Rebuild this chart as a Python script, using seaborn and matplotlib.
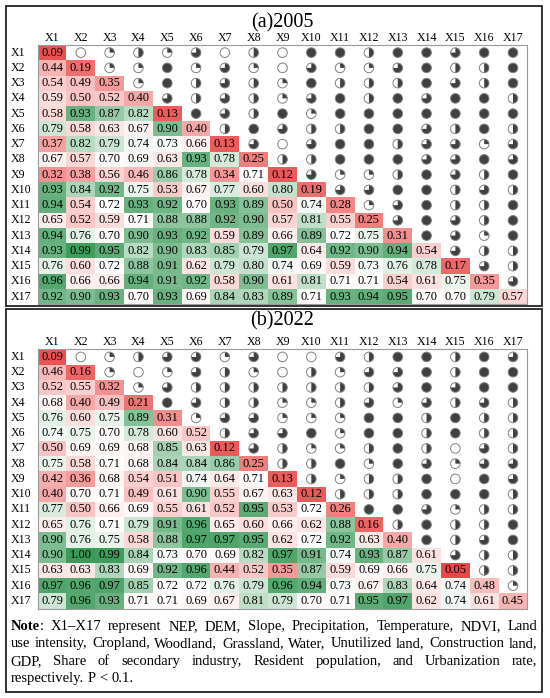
import numpy as np
import pandas as pd
import matplotlib
matplotlib.use("Agg")
import matplotlib.pyplot as plt
import seaborn as sns
from matplotlib.colors import LinearSegmentedColormap
from matplotlib.patches import Wedge, Circle, Rectangle
from matplotlib.transforms import ScaledTranslation

plt.rcParams['font.family'] = ['Liberation Serif', 'DejaVu Serif']

labels = [f"X{i}" for i in range(1, 18)]

# lower triangle (incl. diagonal), row by row
lower_2005 = [
    [0.09],
    [0.44, 0.19],
    [0.54, 0.49, 0.35],
    [0.59, 0.50, 0.52, 0.40],
    [0.58, 0.93, 0.87, 0.82, 0.13],
    [0.79, 0.58, 0.63, 0.67, 0.90, 0.40],
    [0.37, 0.82, 0.79, 0.74, 0.73, 0.66, 0.13],
    [0.67, 0.57, 0.70, 0.69, 0.63, 0.93, 0.78, 0.25],
    [0.32, 0.38, 0.56, 0.46, 0.86, 0.78, 0.34, 0.71, 0.12],
    [0.93, 0.84, 0.92, 0.75, 0.53, 0.67, 0.77, 0.60, 0.80, 0.19],
    [0.94, 0.54, 0.72, 0.93, 0.92, 0.70, 0.93, 0.89, 0.50, 0.74, 0.28],
    [0.65, 0.52, 0.59, 0.71, 0.88, 0.88, 0.92, 0.90, 0.57, 0.81, 0.55, 0.25],
    [0.94, 0.76, 0.70, 0.90, 0.93, 0.92, 0.59, 0.89, 0.66, 0.89, 0.72, 0.75, 0.31],
    [0.93, 0.99, 0.95, 0.82, 0.90, 0.83, 0.85, 0.79, 0.97, 0.64, 0.92, 0.90, 0.94, 0.54],
    [0.76, 0.60, 0.72, 0.88, 0.91, 0.62, 0.79, 0.80, 0.74, 0.69, 0.59, 0.73, 0.76, 0.78, 0.17],
    [0.96, 0.66, 0.66, 0.94, 0.91, 0.92, 0.58, 0.90, 0.61, 0.81, 0.71, 0.71, 0.54, 0.61, 0.75, 0.35],
    [0.92, 0.90, 0.93, 0.70, 0.93, 0.69, 0.84, 0.83, 0.89, 0.71, 0.93, 0.94, 0.95, 0.70, 0.70, 0.79, 0.57],
]
lower_2022 = [
    [0.09],
    [0.46, 0.16],
    [0.52, 0.55, 0.32],
    [0.68, 0.40, 0.49, 0.21],
    [0.76, 0.60, 0.75, 0.89, 0.31],
    [0.74, 0.75, 0.70, 0.78, 0.60, 0.52],
    [0.50, 0.69, 0.69, 0.68, 0.85, 0.63, 0.12],
    [0.75, 0.58, 0.71, 0.68, 0.84, 0.84, 0.86, 0.25],
    [0.42, 0.36, 0.68, 0.54, 0.51, 0.74, 0.64, 0.71, 0.13],
    [0.40, 0.70, 0.71, 0.49, 0.61, 0.90, 0.55, 0.67, 0.63, 0.12],
    [0.77, 0.50, 0.66, 0.69, 0.55, 0.61, 0.52, 0.95, 0.53, 0.72, 0.26],
    [0.65, 0.76, 0.71, 0.79, 0.91, 0.96, 0.65, 0.60, 0.66, 0.62, 0.88, 0.16],
    [0.90, 0.76, 0.75, 0.58, 0.88, 0.97, 0.97, 0.95, 0.62, 0.72, 0.92, 0.63, 0.40],
    [0.90, 1.00, 0.99, 0.84, 0.73, 0.70, 0.69, 0.82, 0.97, 0.91, 0.74, 0.93, 0.87, 0.61],
    [0.63, 0.63, 0.83, 0.69, 0.92, 0.96, 0.44, 0.52, 0.35, 0.87, 0.59, 0.69, 0.66, 0.75, 0.05],
    [0.97, 0.96, 0.97, 0.85, 0.72, 0.72, 0.76, 0.79, 0.96, 0.94, 0.73, 0.67, 0.83, 0.64, 0.74, 0.48],
    [0.79, 0.96, 0.93, 0.71, 0.71, 0.69, 0.67, 0.81, 0.79, 0.70, 0.71, 0.95, 0.97, 0.62, 0.74, 0.61, 0.45],
]

# upper triangle pie fill fractions, row i gives columns i+1 .. 17
pie_2005 = [
    [0, .25, .5, .25, .75, 0, .5, 0, 1, 1, .5, 1, 1, .75, 1, 1],
    [.25, .25, 1, .25, .75, .25, 0, .75, .25, .25, .75, 1, .5, .5, 1],
    [.25, 1, .5, .75, .5, .25, 1, .5, .5, .5, 1, .75, .5, 1],
    [.75, .5, .75, .5, .25, .75, 1, .5, 1, .75, 1, 1, .5],
    [1, .75, .5, 1, .25, 1, 1, 1, 1, 1, 1, 1],
    [.5, 1, .75, .5, .5, 1, 1, .75, .5, 1, .5],
    [.75, 0, .75, 1, 1, .5, .75, .75, .25, .75],
    [.5, .5, 1, 1, 1, .75, .75, 1, .75],
    [.75, .25, .25, .5, 1, .75, .5, 1],
    [.75, .75, 1, 1, .5, .75, .5],
    [.25, .75, 1, .5, .5, 1],
    [.75, 1, .75, .5, 1],
    [1, .75, .25, 1],
    [.75, .5, .5],
    [.75, .5],
    [.75],
]
pie_2022 = [
    [0, .25, .5, .75, .75, .25, .75, 0, 0, .75, .5, 1, 1, .5, 1, .75],
    [.25, 0, .25, .75, .5, .25, 0, .5, .25, .75, .75, 1, .5, 1, 1],
    [.25, .75, .5, .5, .5, .5, .5, .5, .5, .75, 1, .75, 1, 1],
    [1, .75, .5, .5, .25, .25, .5, .75, .25, .75, .5, .75, .5],
    [.25, .75, .75, .25, .25, .25, 1, 1, .5, 1, .5, .5],
    [.5, .75, .75, 1, .25, 1, 1, .5, 1, .5, .5],
    [.75, .5, .25, .25, .5, 1, .5, 0, .75, .5],
    [.5, .5, 1, .25, 1, .75, .25, .75, .75],
    [.5, .25, .5, .5, 1, 0, 1, .75],
    [.5, .5, .5, 1, 1, 1, .5],
    [1, 1, .75, .25, .5, .5],
    [.5, 1, .5, .5, 1],
    [1, .5, .75, 1],
    [.75, .5, .5],
    [.5, .5],
    [.25],
]

titles = ["(a)2005", "(b)2022"]
note_lines = [
    "Note: X1\u2013X17 represent NEP, DEM, Slope, Precipitation, Temperature, NDVI, Land",
    "use intensity, Cropland, Woodland, Grassland, Water, Unutilized land, Construction land,",
    "GDP, Share of secondary industry, Resident population, and Urbanization rate,",
    "respectively. P < 0.1.",
]

W, H = 550, 698
fig = plt.figure(figsize=(W / 100, H / 100), dpi=100)

def fx(x):
    return x / W

def fy(y):
    return 1 - y / H

vmin, vmax, vcenter = 0.05, 1.0, 0.72
cpos = (vcenter - vmin) / (vmax - vmin)
cmap = LinearSegmentedColormap.from_list(
    "rwg", [(0.0, "#e84848"), (cpos, "#ffffff"), (1.0, "#3a9a58")])

def build(lower):
    M = np.full((17, 17), np.nan)
    for i, row in enumerate(lower):
        M[i, :len(row)] = row
    return pd.DataFrame(M, index=labels, columns=labels)

left_px, right_px = 37.6, 527.4
row_h = 15.25
panels = [(lower_2005, pie_2005, 45.0, 22.5), (lower_2022, pie_2022, 349.3, 321.0)]

r_in = 0.048
for (lower, pies, top_px, title_y), title in zip(panels, titles):
    bottom_px = top_px + 17 * row_h
    ax = fig.add_axes([fx(left_px), fy(bottom_px), (right_px - left_px) / W, (bottom_px - top_px) / H])
    df = build(lower)
    sns.heatmap(df, mask=df.isna(), cmap=cmap, vmin=vmin, vmax=vmax, annot=True, fmt=".2f",
                annot_kws={"fontsize": 8.9, "color": "black"}, cbar=False, ax=ax,
                linewidths=0)
    ax.xaxis.set_ticks_position("top")
    ax.tick_params(axis="both", length=0, labelsize=8.6)
    ax.tick_params(axis="x", pad=1.0, labelrotation=0)
    ax.tick_params(axis="y", pad=19.0, labelrotation=0)
    for t in ax.get_yticklabels():
        t.set_ha("left")
    ax.set_xlabel("")
    ax.set_ylabel("")
    for sp in ax.spines.values():
        sp.set_visible(True)
        sp.set_color("#9a9a9a")
        sp.set_linewidth(0.8)
    for i, row in enumerate(pies):
        for k, f in enumerate(row):
            j = i + 1 + k
            tr = fig.dpi_scale_trans + ScaledTranslation(j + 0.5, i + 0.5, ax.transData)
            ax.add_artist(Circle((0, 0), r_in, transform=tr, facecolor="white",
                                 edgecolor="none"))
            if f >= 1:
                ax.add_artist(Circle((0, 0), r_in, transform=tr, facecolor="#404040",
                                     edgecolor="none"))
            elif f > 0:
                ax.add_artist(Wedge((0, 0), r_in, 90 - 360 * f, 90, transform=tr,
                                    facecolor="#404040", edgecolor="none"))
            ax.add_artist(Circle((0, 0), r_in, transform=tr, facecolor="none",
                                 edgecolor="#808080", linewidth=0.7))
    ax.set_xlim(0, 17)
    ax.set_ylim(17, 0)
    fig.text(fx((left_px + right_px) / 2), fy(title_y), title, ha="center", va="center",
             fontsize=14.5)

# frames
for (y0, y1) in [(6, 306), (309, 692)]:
    fig.patches.append(Rectangle((fx(6), fy(y1)), (542 - 6) / W, (y1 - y0) / H,
                                 transform=fig.transFigure, fill=False,
                                 edgecolor="#222222", linewidth=1.3))

# justified note
renderer = fig.canvas.get_renderer()
x0, x1 = 10.5, 537.5

def width_of(s, fs, weight="normal"):
    t = fig.text(0, 0, s, fontsize=fs, weight=weight)
    w = t.get_window_extent(renderer).width
    t.remove()
    return w

# pick the size at which the tightest line fits with natural spacing
fs = 10.0 * (x1 - x0) / width_of(note_lines[1], 10.0) * 0.995

note_w = width_of("Note:", fs, "bold")
colon_w = width_of(":", fs, "bold")
y_base = 630.0
line_gap = 17.4
for li, line in enumerate(note_lines):
    words = line.split(" ")
    widths = []
    for w in words:
        if w == "Note:":
            widths.append(note_w - colon_w + width_of(":", fs))
        else:
            widths.append(width_of(w, fs))
    if li < len(note_lines) - 1:
        gap = (x1 - x0 - sum(widths)) / (len(words) - 1)
    else:
        gap = width_of("a b", fs) - width_of("ab", fs)
    x = x0
    y = y_base + li * line_gap
    for w, wd in zip(words, widths):
        if w == "Note:":
            fig.text(fx(x), fy(y), "Note", fontsize=fs, weight="bold", va="baseline")
            fig.text(fx(x + note_w - colon_w), fy(y), ":", fontsize=fs, va="baseline")
        else:
            fig.text(fx(x), fy(y), w, fontsize=fs, va="baseline")
        x += wd + gap

fig.savefig("out.png", dpi=100)
